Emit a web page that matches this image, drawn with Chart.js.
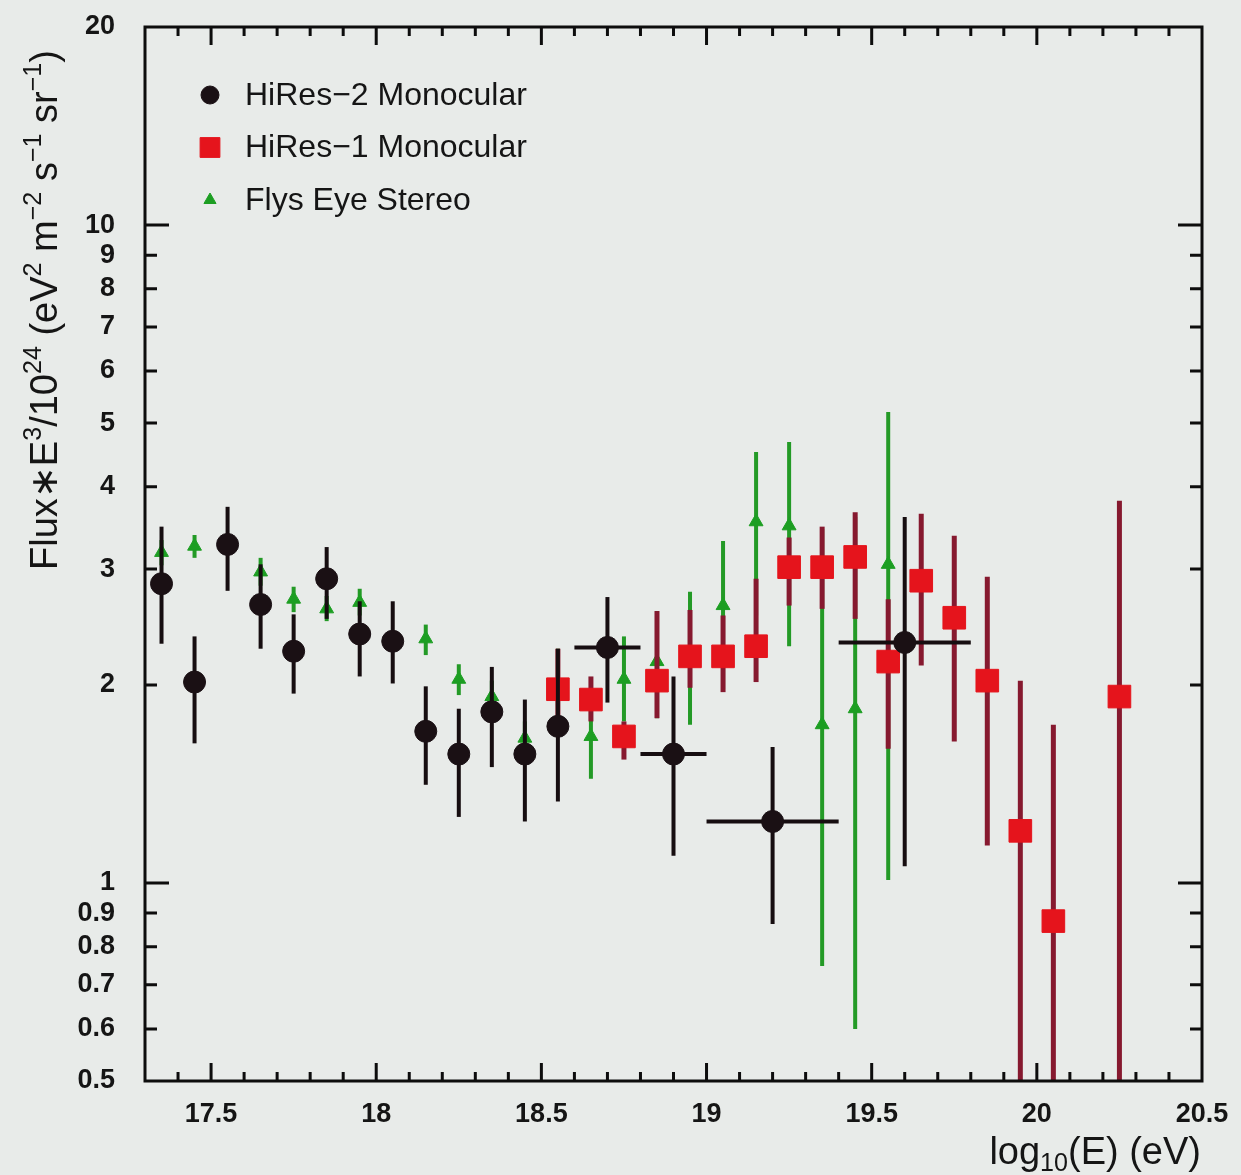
<!DOCTYPE html>
<html>
<head>
<meta charset="utf-8">
<title>Cosmic ray flux × E³</title>
<script src="https://cdn.jsdelivr.net/npm/chart.js@4.4.1/dist/chart.umd.min.js"></script>
<style>
  html, body { margin: 0; padding: 0; background: #e8ebe9; }
  #wrap { width: 1241px; height: 1175px; }
</style>
</head>
<body>
<div id="wrap"><canvas id="c" width="1241" height="1175"></canvas></div>
<script>
// ---- Data: log10(E/eV) vs Flux*E^3/10^24 (eV^2 m^-2 s^-1 sr^-1) ----

// HiRes-2 monocular
const hr2Energy = [17.35, 17.45, 17.55, 17.65, 17.75, 17.85, 17.95, 18.05, 18.15, 18.25, 18.35, 18.45, 18.55, 18.7, 18.9, 19.2, 19.6];
const hr2Flux   = [2.85, 2.02, 3.27, 2.65, 2.25, 2.90, 2.39, 2.33, 1.70, 1.57, 1.82, 1.57, 1.73, 2.28, 1.57, 1.24, 2.32];
const hr2Upper  = [3.48, 2.37, 3.73, 3.05, 2.56, 3.24, 2.68, 2.68, 1.99, 1.84, 2.13, 1.90, 2.27, 2.72, 2.06, 1.61, 3.60];
const hr2Lower  = [2.31, 1.63, 2.78, 2.27, 1.94, 2.52, 2.06, 2.01, 1.41, 1.26, 1.50, 1.24, 1.33, 1.88, 1.10, 0.866, 1.06];
const hr2BinHalf = [0, 0, 0, 0, 0, 0, 0, 0, 0, 0, 0, 0, 0, 0.1, 0.1, 0.2, 0.2];

// HiRes-1 monocular
const hr1Energy = [18.55, 18.65, 18.75, 18.85, 18.95, 19.05, 19.15, 19.25, 19.35, 19.45, 19.55, 19.65, 19.75, 19.85, 19.95, 20.05, 20.25];
const hr1Flux   = [1.97, 1.90, 1.67, 2.03, 2.21, 2.21, 2.29, 3.02, 3.02, 3.13, 2.17, 2.88, 2.53, 2.03, 1.20, 0.875, 1.92];
const hr1Upper  = [2.27, 2.06, 1.76, 2.59, 2.60, 2.55, 2.90, 3.35, 3.48, 3.66, 2.70, 3.64, 3.37, 2.92, 2.03, 1.74, 3.81];
const hr1Lower  = [1.71, 1.76, 1.54, 1.78, 1.98, 1.95, 2.02, 2.64, 2.61, 2.52, 1.60, 2.14, 1.64, 1.14, 0.30, 0.30, 0.30];

// Fly's Eye stereo
const feEnergy = [17.35, 17.45, 17.65, 17.75, 17.85, 17.95, 18.15, 18.25, 18.35, 18.45, 18.55, 18.65, 18.75, 18.85, 18.95, 19.05, 19.15, 19.25, 19.35, 19.45, 19.55];
const feFlux   = [3.18, 3.25, 2.97, 2.70, 2.61, 2.67, 2.35, 2.04, 1.92, 1.66, 1.98, 1.67, 2.04, 2.17, 2.20, 2.64, 3.54, 3.49, 1.74, 1.84, 3.05];
const feUpper  = [3.32, 3.38, 3.12, 2.82, 2.73, 2.80, 2.47, 2.15, 2.03, 1.76, 2.27, 1.90, 2.37, 2.59, 2.77, 3.31, 4.52, 4.68, 3.45, 3.60, 5.20];
const feLower  = [3.04, 3.12, 2.83, 2.58, 2.50, 2.55, 2.22, 1.93, 1.81, 1.56, 1.71, 1.44, 1.76, 1.78, 1.74, 1.97, 2.55, 2.29, 0.748, 0.600, 1.01];

// Axis ticks
const xMajorTicks = [17.5, 18, 18.5, 19, 19.5, 20, 20.5];
const xTickLabels = ['17.5', '18', '18.5', '19', '19.5', '20', '20.5'];
const yTicks = [0.5, 0.6, 0.7, 0.8, 0.9, 1, 2, 3, 4, 5, 6, 7, 8, 9, 10, 20];
const yTickLabels = ['0.5', '0.6', '0.7', '0.8', '0.9', '1', '2', '3', '4', '5', '6', '7', '8', '9', '10', '20'];
const yMajorTicks = [1, 10];

const seriesLabels = ['HiRes\u22122 Monocular', 'HiRes\u22121 Monocular', 'Flys Eye Stereo'];

// ---- Build datasets ----
function pts(xs, ys) { return xs.map((x, i) => ({ x: x, y: ys[i] })); }

const datasets = [
  {
    label: seriesLabels[0],
    data: pts(hr2Energy, hr2Flux),
    upper: hr2Upper, lower: hr2Lower, xHalf: hr2BinHalf,
    pointStyle: 'circle', pointRadius: 11,
    backgroundColor: '#1a1014', borderColor: '#1a1014', borderWidth: 1,
    barColor: '#160d10', barWidth: 4,
    legendRadius: 9
  },
  {
    label: seriesLabels[1],
    data: pts(hr1Energy, hr1Flux),
    upper: hr1Upper, lower: hr1Lower,
    pointStyle: 'rect', pointRadius: 16,
    backgroundColor: '#e5141c', borderColor: '#e5141c', borderWidth: 1,
    barColor: '#86192f', barWidth: 5,
    legendRadius: 14
  },
  {
    label: seriesLabels[2],
    data: pts(feEnergy, feFlux),
    upper: feUpper, lower: feLower,
    pointStyle: 'triangle', pointRadius: 8,
    backgroundColor: '#1c9e22', borderColor: '#1c9e22', borderWidth: 1,
    barColor: '#239a26', barWidth: 4,
    legendRadius: 7
  }
];

// ---- Error bars, drawn just before each dataset's markers ----
const errorBars = {
  id: 'errorBars',
  beforeDatasetDraw(chart, args) {
    const ds = chart.data.datasets[args.index];
    const xs = chart.scales.x, ys = chart.scales.y;
    const a = chart.chartArea;
    const ctx = chart.ctx;
    ctx.save();
    ctx.beginPath();
    ctx.rect(a.left, a.top, a.right - a.left, a.bottom - a.top);
    ctx.clip();
    ctx.strokeStyle = ds.barColor;
    ctx.lineWidth = ds.barWidth;
    ctx.lineCap = 'butt';
    ds.data.forEach((p, i) => {
      const px = xs.getPixelForValue(p.x);
      ctx.beginPath();
      ctx.moveTo(px, ys.getPixelForValue(ds.upper[i]));
      ctx.lineTo(px, ys.getPixelForValue(ds.lower[i]));
      ctx.stroke();
      const h = ds.xHalf ? ds.xHalf[i] : 0;
      if (h) {
        const py = ys.getPixelForValue(p.y);
        ctx.beginPath();
        ctx.moveTo(xs.getPixelForValue(p.x - h), py);
        ctx.lineTo(xs.getPixelForValue(p.x + h), py);
        ctx.stroke();
      }
    });
    ctx.restore();
  }
};

// ---- Frame and inward ticks on all four sides ----
const frame = {
  id: 'frame',
  afterDatasetsDraw(chart) {
    const a = chart.chartArea, ctx = chart.ctx;
    const xs = chart.scales.x, ys = chart.scales.y;
    ctx.save();
    ctx.strokeStyle = '#0d0d0d';
    ctx.lineWidth = 3;
    ctx.strokeRect(a.left, a.top, a.right - a.left, a.bottom - a.top);
    // x ticks every 0.1, longer at each labelled value
    for (let k = 174; k <= 205; k++) {
      const v = k / 10;
      const px = xs.getPixelForValue(v);
      if (px <= a.left + 2 || px >= a.right - 2) continue;
      const major = xMajorTicks.some(m => Math.abs(m - v) < 1e-6);
      const len = major ? 18 : 9;
      ctx.beginPath();
      ctx.moveTo(px, a.bottom); ctx.lineTo(px, a.bottom - len);
      ctx.moveTo(px, a.top); ctx.lineTo(px, a.top + len);
      ctx.stroke();
    }
    // y ticks
    yTicks.forEach(v => {
      const py = ys.getPixelForValue(v);
      if (py <= a.top + 2 || py >= a.bottom - 2) return;
      const len = yMajorTicks.includes(v) ? 24 : 12;
      ctx.beginPath();
      ctx.moveTo(a.left, py); ctx.lineTo(a.left + len, py);
      ctx.moveTo(a.right, py); ctx.lineTo(a.right - len, py);
      ctx.stroke();
    });
    ctx.restore();
  }
};

// ---- Text with super/subscripts ----
const SCRIPT_RATIO = 0.66;
function richWidth(ctx, parts, size, family) {
  let w = 0;
  parts.forEach(p => {
    const s = p.sup || p.sub ? size * SCRIPT_RATIO : size;
    ctx.font = s + 'px ' + family;
    w += ctx.measureText(p.t).width;
  });
  return w;
}
function drawRich(ctx, parts, x, y, size, family) {
  let cx = x;
  parts.forEach(p => {
    const s = p.sup || p.sub ? size * SCRIPT_RATIO : size;
    ctx.font = s + 'px ' + family;
    let dy = 0;
    if (p.sup) dy = -size * 0.42;
    if (p.sub) dy = size * 0.18;
    ctx.fillText(p.t, cx, y + dy);
    cx += ctx.measureText(p.t).width;
  });
}

const yTitleParts = [
  { t: 'Flux\u2217E' }, { t: '3', sup: true }, { t: '/10' }, { t: '24', sup: true },
  { t: ' (eV' }, { t: '2', sup: true }, { t: ' m' }, { t: '\u22122', sup: true },
  { t: ' s' }, { t: '\u22121', sup: true }, { t: ' sr' }, { t: '\u22121', sup: true }, { t: ')' }
];
const xTitleParts = [{ t: 'log' }, { t: '10', sub: true }, { t: '(E) (eV)' }];

const titles = {
  id: 'titles',
  afterDraw(chart) {
    const ctx = chart.ctx;
    const fam = '"Liberation Sans", Arial, sans-serif';
    ctx.save();
    ctx.fillStyle = '#151515';
    ctx.textBaseline = 'alphabetic';
    ctx.textAlign = 'left';
    // y title, rotated
    const ySize = 38;
    const yw = richWidth(ctx, yTitleParts, ySize, fam);
    ctx.save();
    ctx.translate(57, 310);
    ctx.rotate(-Math.PI / 2);
    drawRich(ctx, yTitleParts, -yw / 2, 0, ySize, fam);
    ctx.restore();
    // x title, right aligned under the axis
    const xSize = 38;
    const xw = richWidth(ctx, xTitleParts, xSize, fam);
    drawRich(ctx, xTitleParts, 1201 - xw, 1164, xSize, fam);
    ctx.restore();
  }
};

// ---- Legend inside the plot ----
const innerLegend = {
  id: 'innerLegend',
  afterDraw(chart) {
    const ctx = chart.ctx;
    const a = chart.chartArea;
    ctx.save();
    ctx.font = '32px "Liberation Sans", Arial, sans-serif';
    ctx.textBaseline = 'middle';
    ctx.textAlign = 'left';
    chart.data.datasets.forEach((ds, i) => {
      const y = a.top + 68 + i * 52.5;
      const x = a.left + 65;
      ctx.fillStyle = ds.backgroundColor;
      ctx.strokeStyle = ds.borderColor;
      ctx.lineWidth = 1;
      Chart.helpers.drawPoint(ctx, {
        pointStyle: ds.pointStyle, radius: ds.legendRadius, rotation: 0, borderWidth: 1
      }, x, y);
      ctx.fillStyle = '#151515';
      ctx.fillText(ds.label, a.left + 100, y + 1);
    });
    ctx.restore();
  }
};

const tickFont = { family: '"Liberation Sans", Arial, sans-serif', size: 27, weight: 'bold' };

new Chart(document.getElementById('c'), {
  type: 'scatter',
  data: { datasets: datasets },
  options: {
    responsive: false,
    animation: false,
    layout: { padding: { top: 27, right: 39, left: 0, bottom: 0 } },
    plugins: { legend: { display: false }, tooltip: { enabled: false } },
    elements: { point: { hoverRadius: 0 } },
    scales: {
      x: {
        type: 'linear', min: 17.3, max: 20.5,
        afterBuildTicks: s => { s.ticks = xMajorTicks.map(v => ({ value: v })); },
        afterFit: s => { s.height = 94; },
        ticks: {
          autoSkip: false, maxRotation: 0, padding: 9, color: '#151515', font: tickFont,
          callback: (v) => { const i = xMajorTicks.findIndex(m => Math.abs(m - v) < 1e-6); return i >= 0 ? xTickLabels[i] : ''; }
        },
        grid: { display: false }, border: { display: false }
      },
      y: {
        type: 'logarithmic', min: 0.5, max: 20,
        afterBuildTicks: s => { s.ticks = yTicks.map(v => ({ value: v })); },
        afterFit: s => { s.width = 145; s.paddingTop = 0; s.paddingBottom = 0; },
        ticks: {
          autoSkip: false, padding: 22, color: '#151515', font: tickFont,
          callback: (v) => { const i = yTicks.findIndex(m => Math.abs(m - v) < 1e-9); return i >= 0 ? yTickLabels[i] : ''; }
        },
        grid: { display: false }, border: { display: false }
      }
    }
  },
  plugins: [errorBars, frame, titles, innerLegend]
});
</script>
</body>
</html>
